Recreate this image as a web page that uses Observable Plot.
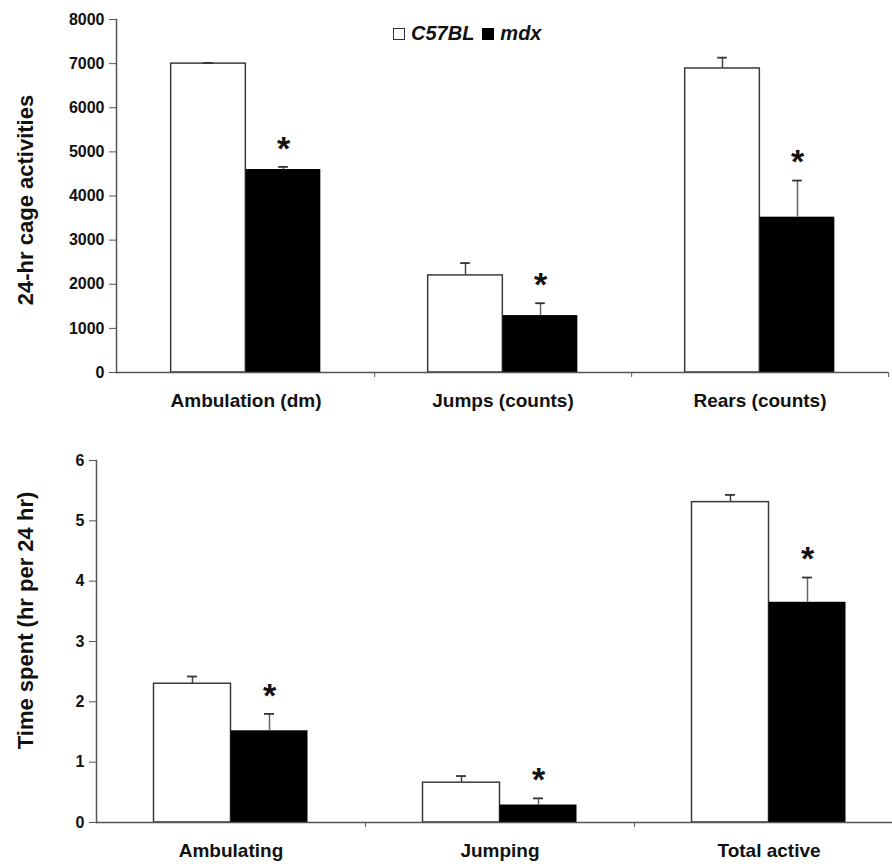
<!DOCTYPE html>
<html><head><meta charset="utf-8">
<script src="https://cdn.jsdelivr.net/npm/d3@7"></script>
<script src="https://cdn.jsdelivr.net/npm/@observablehq/plot@0.6"></script>
<style>
html,body{margin:0;padding:0;background:#fff;overflow:hidden}
#wrap{position:relative;width:892px;font-family:"Liberation Sans",Arial,sans-serif}
#wrap svg{display:block}
#legend{position:absolute;left:393px;top:22px;font:italic bold 20px "Liberation Sans",Arial,sans-serif;display:flex;align-items:center;color:#111;white-space:nowrap}
.sw{display:inline-block;width:12px;height:12px;border:1.5px solid #333;box-sizing:border-box;margin-right:6px}
.sw.b{background:#000;border-color:#000;margin-left:8px}
</style></head><body>
<div id="wrap"><div id="legend"><span class="sw"></span><span>C57BL</span><span class="sw b"></span><span>mdx</span></div></div>
<script>
const groups = ["C57BL", "mdx"];

const topCategories = ["Ambulation (dm)", "Jumps (counts)", "Rears (counts)"];
const topC57 = [7000, 2200, 6890];
const topC57Err = [15, 280, 245];
const topMdx = [4600, 1290, 3520];
const topMdxErr = [60, 280, 830];
const topTicks = [0, 1000, 2000, 3000, 4000, 5000, 6000, 7000, 8000];
const topYLabel = "24-hr cage activities";

const bottomCategories = ["Ambulating", "Jumping", "Total active"];
const bottomC57 = [2.3, 0.66, 5.31];
const bottomC57Err = [0.12, 0.11, 0.12];
const bottomMdx = [1.52, 0.29, 3.65];
const bottomMdxErr = [0.28, 0.11, 0.41];
const bottomTicks = [0, 1, 2, 3, 4, 5, 6];
const bottomYLabel = "Time spent (hr per 24 hr)";

function panel(o) {
  const rows = o.categories.map((cat, i) => ({
    cat,
    c57: o.c57[i], c57Top: o.c57[i] + o.c57Err[i],
    mdx: o.mdx[i], mdxTop: o.mdx[i] + o.mdxErr[i]
  }));
  const bw = (o.xRange[1] - o.xRange[0]) / o.categories.length;
  const W = o.barW, cap = 5;
  return Plot.plot({
    width: 892, height: o.height,
    marginLeft: o.ml, marginRight: o.mr, marginTop: o.mt, marginBottom: o.mb,
    style: {fontFamily: "'Liberation Sans', Arial, sans-serif", background: "white", color: "#111"},
    x: {domain: o.categories, range: o.xRange, padding: 0},
    y: {domain: [0, o.ticks[o.ticks.length - 1]]},
    marks: [
      Plot.barY(rows, {x: "cat", y: "c57", fill: "white", stroke: "#3a3a3a", strokeWidth: 1.5,
        insetLeft: bw / 2 - W, insetRight: bw / 2}),
      Plot.barY(rows, {x: "cat", y: "mdx", fill: "black",
        insetLeft: bw / 2, insetRight: bw / 2 - W}),
      Plot.ruleX(rows, {x: "cat", y1: "c57", y2: "c57Top", dx: -W / 2, stroke: "#444", strokeWidth: 1.5}),
      Plot.tickY(rows, {x: "cat", y: "c57Top", dx: -W / 2, insetLeft: bw / 2 - cap, insetRight: bw / 2 - cap, stroke: "#333", strokeWidth: 1.8}),
      Plot.ruleX(rows, {x: "cat", y1: "mdx", y2: "mdxTop", dx: W / 2, stroke: "#666", strokeWidth: 1.5}),
      Plot.tickY(rows, {x: "cat", y: "mdxTop", dx: W / 2, insetLeft: bw / 2 - cap, insetRight: bw / 2 - cap, stroke: "#333", strokeWidth: 1.8}),
      Plot.text(rows, {x: "cat", y: "mdxTop", text: () => "*", dx: W / 2, dy: -18, fontSize: 34, fontWeight: "bold", fill: "#111"}),
      Plot.ruleY([0], {stroke: "#555", strokeWidth: 1.5}),
      Plot.frame({anchor: "left", stroke: "#555", strokeWidth: 1.5}),
      Plot.axisY({ticks: o.ticks, tickSize: 7, tickPadding: 5, tickFormat: d => String(d), fontSize: 16, fontWeight: "bold", stroke: "#555", label: null}),
      Plot.axisX({tickSize: 0, tickPadding: 21, fontSize: 19, fontWeight: "bold", label: null}),
      Plot.axisX({tickSize: 5, tickFormat: () => "", dx: bw / 2, stroke: "#555", label: null}),
      Plot.text([o.yLabel], {text: d => d, frameAnchor: "left", textAnchor: "middle", rotate: -90, dx: o.titleX - o.ml, dy: o.titleDy,
        fontSize: 22, fontWeight: "bold", fill: "#111", lineAnchor: "middle"})
    ]
  });
}

const wrap = document.getElementById("wrap");
wrap.appendChild(panel({
  categories: topCategories, c57: topC57, c57Err: topC57Err, mdx: topMdx, mdxErr: topMdxErr,
  ticks: topTicks, yLabel: topYLabel, height: 420, ml: 116, mr: 4, mt: 19, mb: 48,
  xRange: [116, 888], barW: 75, titleX: 25, titleDy: 4
}));
wrap.appendChild(panel({
  categories: bottomCategories, c57: bottomC57, c57Err: bottomC57Err, mdx: bottomMdx, mdxErr: bottomMdxErr,
  ticks: bottomTicks, yLabel: bottomYLabel, height: 447, ml: 96, mr: 0, mt: 40, mb: 45,
  xRange: [96, 903], barW: 77, titleX: 25, titleDy: -21
}));
</script></body></html>
